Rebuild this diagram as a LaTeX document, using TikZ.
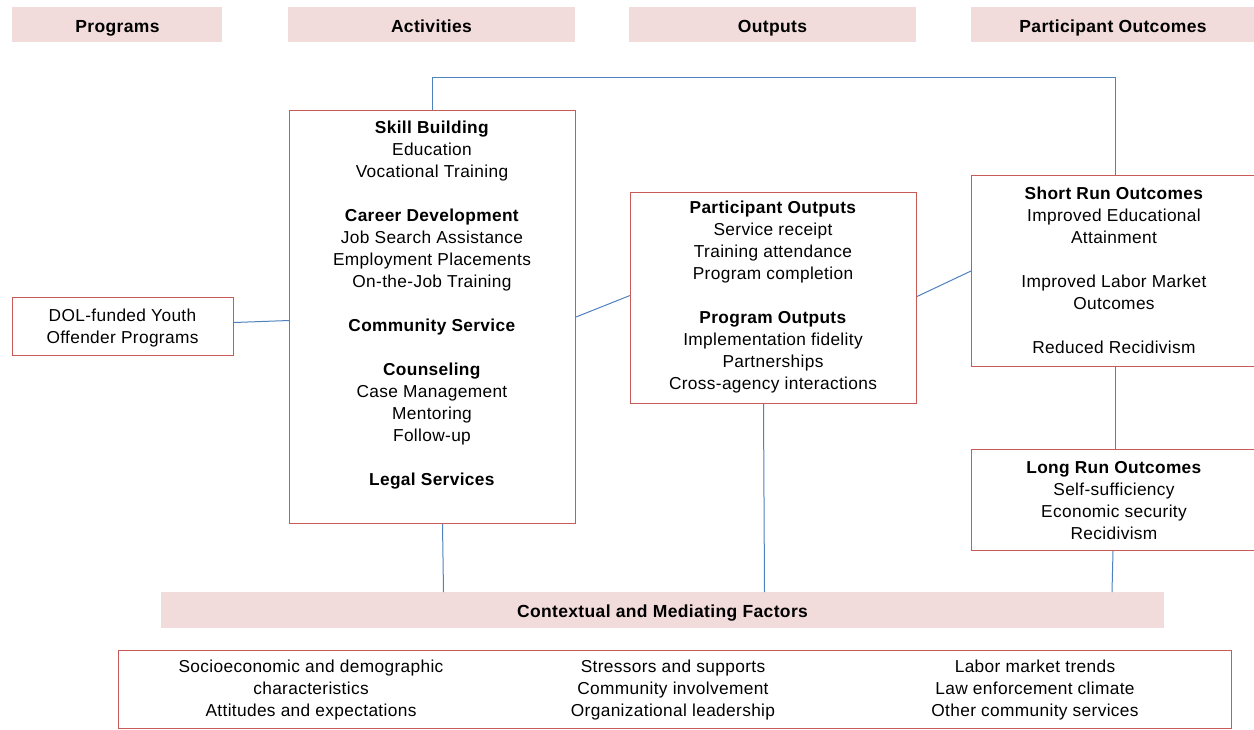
\documentclass[tikz,border=0pt]{standalone}
\usepackage{fontspec}
\setmainfont{Liberation Sans}[LetterSpace=2]
\definecolor{boxred}{HTML}{C85A58}
\definecolor{lineblue}{HTML}{4F81BD}
\definecolor{barpink}{HTML}{F2DCDB}
\begin{document}
\begin{tikzpicture}[x=1pt,y=-1pt,
  box/.style={draw=boxred, line width=1pt, inner sep=0pt, anchor=north west},
  bar/.style={fill=barpink, draw=none, inner sep=0pt, anchor=north west},
  head/.style={font=\fontsize{17.5}{18}\selectfont\bfseries, anchor=base, inner sep=0pt},
  body/.style={font=\fontsize{17.3}{22}\selectfont, align=center, inner sep=0pt},
  conn/.style={draw=lineblue, line width=1pt}]
\useasboundingbox (0,0) rectangle (1254,729);

% header bars
\node[bar, minimum width=210pt, minimum height=35pt] (hprog) at (12,7) {};
\node[head] at (117.5,32) {Programs};
\node[bar, minimum width=287pt, minimum height=35pt] (hact) at (288,7) {};
\node[head] at (431.5,32) {Activities};
\node[bar, minimum width=287pt, minimum height=35pt] (hout) at (629,7) {};
\node[head] at (772.5,32) {Outputs};
\node[bar, minimum width=283pt, minimum height=35pt] (hpart) at (971,7) {};
\node[head] at (1113,32) {Participant Outcomes};

% boxes
\node[box, minimum width=221pt, minimum height=58pt] (dol) at (12,297) {};
\node[body] at (122.5,328) {DOL-funded Youth\\Offender Programs};

\node[box, minimum width=286pt, minimum height=413pt] (act) at (289,110) {};
\node[body] at (432,305) {\textbf{Skill Building}\\Education\\Vocational Training\\[22pt]
\textbf{Career Development}\\Job Search Assistance\\Employment Placements\\On-the-Job Training\\[22pt]
\textbf{Community Service}\\[22pt]
\textbf{Counseling}\\Case Management\\Mentoring\\Follow-up\\[22pt]
\textbf{Legal Services}};

\node[box, minimum width=286pt, minimum height=211pt] (po) at (630,192) {};
\node[body] at (773,297) {\textbf{Participant Outputs}\\Service receipt\\Training attendance\\Program completion\\[22pt]
\textbf{Program Outputs}\\Implementation fidelity\\Partnerships\\Cross-agency interactions};

\node[box, minimum width=283pt, minimum height=191pt] (sr) at (971,175) {};
\node[body] at (1114,270.5) {\textbf{Short Run Outcomes}\\Improved Educational\\Attainment\\[22pt]
Improved Labor Market\\Outcomes\\[22pt]Reduced Recidivism};

\node[box, minimum width=283pt, minimum height=101pt] (lr) at (971,449) {};
\node[body] at (1114,500.5) {\textbf{Long Run Outcomes}\\Self-sufficiency\\Economic security\\Recidivism};

\node[bar, minimum width=1003pt, minimum height=36pt] (ctx) at (161,592) {};
\node[head] at (662.5,617) {Contextual and Mediating Factors};

\node[box, minimum width=1113pt, minimum height=78pt] (fac) at (118,650) {};
\node[body] at (311,690) {Socioeconomic and demographic\\characteristics\\Attitudes and expectations};
\node[body] at (673,690) {Stressors and supports\\Community involvement\\Organizational leadership};
\node[body] at (1035,690) {Labor market trends\\Law enforcement climate\\Other community services};

% connectors
\coordinate (tl) at (432,77);
\coordinate (tr) at (1115,77);
\draw[conn] (tl |- act.north) -- (tl) -- (tr) -- (tr |- sr.north);
\draw[conn] ([yshift=4pt]dol.east) -- ([yshift=-3.5pt]act.west);
\draw[conn] (act.east) -- ([yshift=2.5pt]po.west);
\draw[conn] ([yshift=1.5pt]po.east) -- (sr.west);
\draw[conn] ([xshift=2.5pt]sr.south) -- ([xshift=2.5pt]lr.north);
\draw[conn] (lr.south) -- ([xshift=-1pt]lr.south |- ctx.north);
\draw[conn] ([xshift=10pt]act.south) -- ([xshift=11pt]act.south |- ctx.north);
\draw[conn] ([xshift=-10pt]po.south) -- ([xshift=-9pt]po.south |- ctx.north);
\end{tikzpicture}
\end{document}
